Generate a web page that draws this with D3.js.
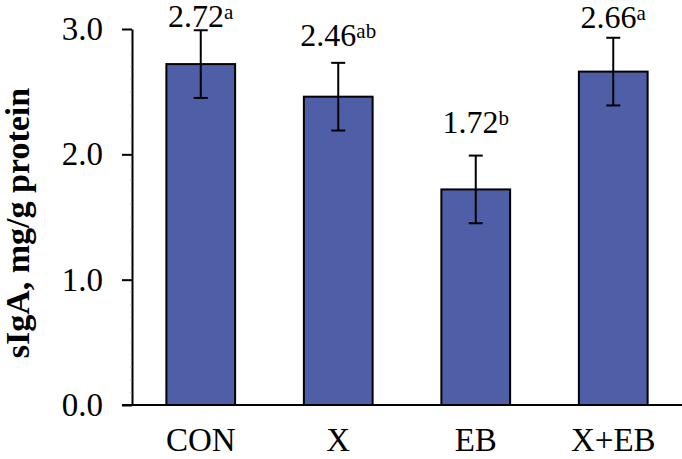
<!DOCTYPE html>
<html>
<head>
<meta charset="utf-8">
<script src="https://cdn.jsdelivr.net/npm/d3@7"></script>
<style>
  html, body { margin: 0; padding: 0; background: #fff; }
  svg { display: block; }
  svg text { font-family: 'Liberation Serif', 'Times New Roman', Times, 'Nimbus Roman', 'DejaVu Serif', serif !important; fill: #000; }
</style>
</head>
<body>
<svg id="chart" width="682" height="459"></svg>
<script>
// ---- data ----
const categories = ["CON", "X", "EB", "X+EB"];
const means = [2.72, 2.46, 1.72, 2.66];
const errors = [0.27, 0.27, 0.27, 0.27];
const letters = ["a", "ab", "b", "a"];
const labelAt = [3.02, 2.865, 2.17, 3.01]; // label baseline, in data units
const yTicks = [0, 1, 2, 3];
const yLabel = "sIgA, mg/g protein";

// ---- layout ----
const FONT = "'Liberation Serif', 'Times New Roman', Times, 'Nimbus Roman', 'DejaVu Serif', serif";
const plotL = 132, plotR = 682, plotT = 29, plotB = 405;
const svg = d3.select("#chart");

const x = d3.scaleBand().domain(categories).range([plotL, plotR])
  .paddingInner(0.5).paddingOuter(0.25);
const y = d3.scaleLinear().domain([0, 3]).range([plotB, plotT]);

// bars
svg.append("g").selectAll("rect").data(categories).join("rect")
  .attr("x", d => x(d))
  .attr("y", (d, i) => y(means[i]))
  .attr("width", x.bandwidth())
  .attr("height", (d, i) => y(0) - y(means[i]))
  .attr("fill", "#4e5fa8")
  .attr("stroke", "#000")
  .attr("stroke-width", 2);

// error bars
const eb = svg.append("g").attr("stroke", "#000").attr("stroke-width", 2);
categories.forEach((c, i) => {
  const cx = x(c) + x.bandwidth() / 2;
  const y1 = y(means[i] + errors[i]), y2 = y(means[i] - errors[i]);
  eb.append("line").attr("x1", cx).attr("x2", cx).attr("y1", y1).attr("y2", y2);
  eb.append("line").attr("x1", cx - 7).attr("x2", cx + 7).attr("y1", y1).attr("y2", y1);
  eb.append("line").attr("x1", cx - 7).attr("x2", cx + 7).attr("y1", y2).attr("y2", y2);
});

// y axis
const yAxis = d3.axisLeft(y).tickValues(yTicks).tickFormat(d3.format(".1f"))
  .tickSize(10).tickSizeOuter(0).tickPadding(19);
const gy = svg.append("g").attr("transform", `translate(${plotL},0)`).call(yAxis);
gy.attr("font-family", null).attr("font-size", null);
gy.select(".domain").attr("stroke", "#000").attr("stroke-width", 2);
gy.selectAll(".tick line").attr("stroke", "#000").attr("stroke-width", 2);
gy.selectAll(".tick text").style("font-family", FONT).style("font-size", "33px");

// minor ticks
svg.append("g").selectAll("line")
  .data(d3.range(1, 30).filter(v => v % 10 !== 0).map(v => v / 10))
  .join("line")
  .attr("x1", plotL - 1.5).attr("x2", plotL)
  .attr("y1", d => y(d)).attr("y2", d => y(d))
  .attr("stroke", "#999").attr("stroke-width", 1);

// x axis line
const xAxis = d3.axisBottom(x).tickSize(0).tickSizeOuter(0).tickPadding(23);
const gx = svg.append("g").attr("transform", `translate(0,${plotB})`).call(xAxis);
gx.attr("font-family", null).attr("font-size", null);
gx.select(".domain").attr("stroke", "#000").attr("stroke-width", 2)
  .attr("d", `M${plotL - 10},0H${plotR}`);
gx.selectAll(".tick text").style("font-family", FONT).style("font-size", "33px");

// value labels
const lab = svg.append("g");
categories.forEach((c, i) => {
  const t = lab.append("text")
    .attr("x", x(c) + x.bandwidth() / 2)
    .attr("y", y(labelAt[i]))
    .attr("text-anchor", "middle")
    .style("font-family", FONT)
    .style("font-size", "32px");
  t.append("tspan").text(means[i].toFixed(2));
  t.append("tspan").style("font-size", "21px").attr("dy", -8).text(letters[i]);
});

// y label
svg.append("text")
  .attr("transform", `translate(29,223) rotate(-90)`)
  .attr("text-anchor", "middle")
  .style("font-family", FONT)
  .style("font-weight", "bold")
  .style("font-size", "34px")
  .text(yLabel);
</script>
</body>
</html>
